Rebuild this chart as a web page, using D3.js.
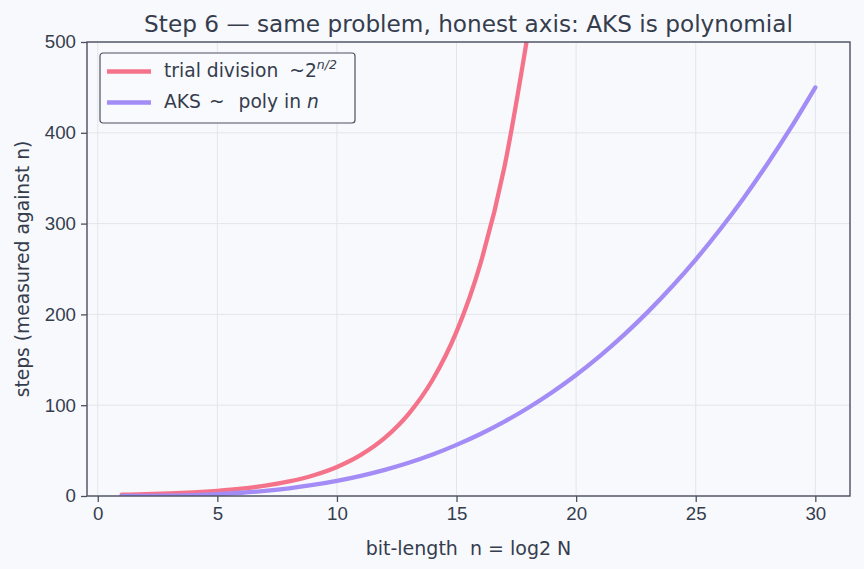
<!DOCTYPE html>
<html>
<head>
<meta charset="utf-8">
<script src="https://cdn.jsdelivr.net/npm/d3@7"></script>
<style>
	html, body { margin: 0; padding: 0; background: #f8f9fd; }
	svg { display: block; font-family: "DejaVu Sans", sans-serif; }
	.grid line { stroke: #e3e5ea; stroke-width: 1; }
	.axis path { display: none; }
	.axis line { stroke: #4a5060; stroke-width: 1.3; }
	.axis text { fill: #353d4d; font-size: 18.7px; }
</style>
</head>
<body>
<svg id="chart" width="864" height="569"></svg>
<script>
// bit-length n
var bitsTrial = [1, 2, 3, 4, 5, 6, 7, 8, 9, 10, 11, 12, 13, 14, 15, 16, 17, 18];
var stepsTrial = [1.4, 2, 2.8, 4, 5.7, 8, 11.3, 16, 22.6, 32, 45.3, 64, 90.5, 128, 181, 256, 362, 512];

var bitsAks = [1, 2, 3, 4, 5, 6, 7, 8, 9, 10, 11, 12, 13, 14, 15, 16, 17, 18, 19, 20, 21, 22, 23, 24, 25, 26, 27, 28, 29, 30];
var stepsAks = [0.02, 0.13, 0.45, 1.07, 2.08, 3.6, 5.7, 8.5, 12.2, 16.7, 22.2, 28.8, 36.6, 45.7, 56.3, 68.3, 81.9, 97.2, 114.3, 133.3, 154.4, 177.5, 202.8, 230.4, 260.4, 292.9, 328, 365.9, 406.5, 450];

var xTicks = [0, 5, 10, 15, 20, 25, 30];
var yTicks = [0, 100, 200, 300, 400, 500];

var seriesList = [
	{ label: "trial division", bits: bitsTrial, steps: stepsTrial, color: "#f4738a" },
	{ label: "AKS", bits: bitsAks, steps: stepsAks, color: "#a38cf5" }
];

var svg = d3.select("#chart"),
	margin = { top: 42, right: 14, bottom: 73, left: 87 },
	width = 864 - margin.left - margin.right,
	height = 569 - margin.top - margin.bottom;

var g = svg.append("g").attr("transform", "translate(" + margin.left + "," + margin.top + ")");

var x = d3.scaleLinear().domain([-0.45, 31.45]).range([0, width]);
var y = d3.scaleLinear().domain([0, 500]).range([height, 0]);

// grid
var grid = g.append("g").attr("class", "grid");
grid.selectAll("line.v").data(xTicks).enter().append("line")
	.attr("class", "v")
	.attr("x1", function(d) { return x(d); }).attr("x2", function(d) { return x(d); })
	.attr("y1", 0).attr("y2", height);
grid.selectAll("line.h").data(yTicks).enter().append("line")
	.attr("class", "h")
	.attr("x1", 0).attr("x2", width)
	.attr("y1", function(d) { return y(d); }).attr("y2", function(d) { return y(d); });

// clip
svg.append("defs").append("clipPath").attr("id", "plot-clip")
	.append("rect").attr("width", width).attr("height", height);

var line = d3.line()
	.curve(d3.curveMonotoneX)
	.x(function(d) { return x(d[0]); })
	.y(function(d) { return y(d[1]); });

seriesList.forEach(function(s) {
	g.append("path")
		.datum(d3.zip(s.bits, s.steps))
		.attr("clip-path", "url(#plot-clip)")
		.attr("fill", "none")
		.attr("stroke", s.color)
		.attr("stroke-width", 4.3)
		.attr("stroke-linecap", "round")
		.attr("d", line);
});

// axes
g.append("g").attr("class", "axis")
	.attr("transform", "translate(0," + height + ")")
	.call(d3.axisBottom(x).tickValues(xTicks).tickSize(6).tickPadding(5));
g.append("g").attr("class", "axis")
	.call(d3.axisLeft(y).tickValues(yTicks).tickSize(6).tickPadding(5));

// frame
g.append("rect")
	.attr("width", width).attr("height", height)
	.attr("fill", "none").attr("stroke", "#4a5060").attr("stroke-width", 1.4);

// labels
svg.append("text")
	.attr("x", margin.left + width / 2).attr("y", 32)
	.attr("text-anchor", "middle").attr("fill", "#353d4d").attr("font-size", 23.2)
	.text("Step 6 \u2014 same problem, honest axis: AKS is polynomial");

svg.append("text")
	.attr("x", margin.left + width / 2).attr("y", 555)
	.attr("text-anchor", "middle").attr("fill", "#353d4d").attr("font-size", 19)
	.attr("xml:space", "preserve")
	.text("bit-length  n = log2 N");

svg.append("text")
	.attr("transform", "translate(29," + (margin.top + height / 2) + ") rotate(-90)")
	.attr("text-anchor", "middle").attr("fill", "#353d4d").attr("font-size", 18.7)
	.text("steps (measured against n)");

// legend
var legend = g.append("g").attr("transform", "translate(13,11)");
legend.append("rect")
	.attr("width", 255).attr("height", 70).attr("rx", 3)
	.attr("fill", "#f9fafd").attr("stroke", "#4a5060").attr("stroke-width", 1.2);

var legendRows = legend.selectAll("g.row").data(seriesList).enter().append("g")
	.attr("transform", function(d, i) { return "translate(0," + (18.5 + i * 31) + ")"; });
legendRows.append("line")
	.attr("x1", 7).attr("x2", 51)
	.attr("stroke", function(d) { return d.color; }).attr("stroke-width", 4.5);

var t0 = legend.append("text").attr("x", 64).attr("y", 18 + 6)
	.attr("fill", "#353d4d").attr("font-size", 18.7);
t0.append("tspan").text("trial division ");
t0.append("tspan").attr("dx", 5).text("~2");
t0.append("tspan").attr("dy", -8).attr("font-size", 12.5).attr("font-style", "italic").text("n/2");

var t1 = legend.append("text").attr("x", 64).attr("y", 49 + 6)
	.attr("fill", "#353d4d").attr("font-size", 18.7);
t1.append("tspan").text("AKS");
t1.append("tspan").attr("dx", 8).text("~");
t1.append("tspan").attr("dx", 14).text("poly in ");
t1.append("tspan").attr("font-style", "italic").text("n");
</script>
</body>
</html>
